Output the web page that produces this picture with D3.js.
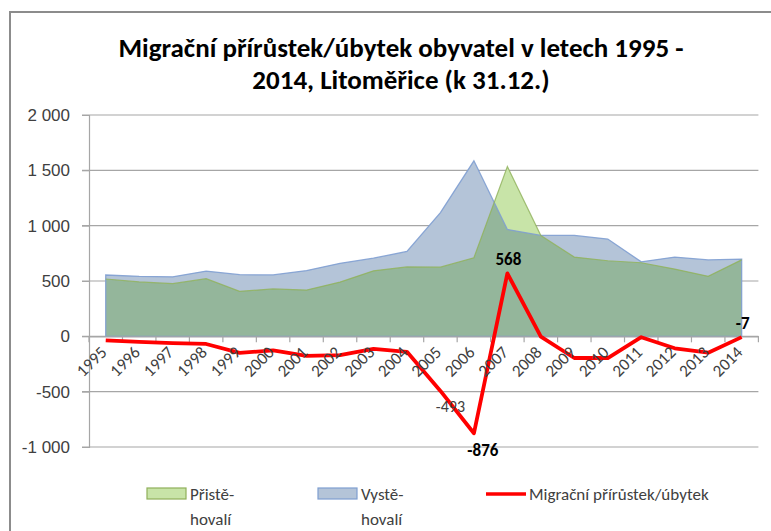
<!DOCTYPE html>
<html>
<head>
<meta charset="utf-8">
<script src="https://cdn.jsdelivr.net/npm/d3@7"></script>
<style>
  body { margin: 0; background: #fff; }
  svg { display: block; font-family: Carlito, Calibri, "Liberation Sans Narrow", "Open Sans", sans-serif; }
</style>
</head>
<body>
<svg id="chart" width="771" height="531"></svg>
<script>
// data
const years = ["1995","1996","1997","1998","1999","2000","2001","2002","2003","2004",
  "2005","2006","2007","2008","2009","2010","2011","2012","2013","2014"];
const immigrants = [518, 492, 476, 521, 407, 428, 418, 490, 592, 627, 625, 710, 1534, 910, 716, 683, 665, 608, 542, 691];
const emigrants  = [554, 542, 538, 590, 557, 555, 594, 660, 706, 767, 1118, 1586, 966, 912, 912, 879, 673, 716, 690, 698];
const netMigration = [-36, -50, -62, -69, -150, -127, -176, -170, -114, -140, -493, -876, 568, -2, -196, -196, -8, -108, -148, -7];
const yTicks = [-1000, -500, 0, 500, 1000, 1500, 2000];
const labelledYears = ["2005", "2006", "2007", "2014"];

const svg = d3.select("#chart");
const margin = { left: 89, right: 771 - 758.4, top: 115, bottom: 531 - 447 };
const width = 771 - margin.left - margin.right;
const height = 531 - margin.top - margin.bottom;

const fmt = d3.formatLocale({ decimal: ",", thousands: " ", grouping: [3], currency: ["", ""], minus: "-" }).format(",d");

// outer frame (cut off at right and bottom like the reference)
svg.append("rect")
  .attr("x", 10).attr("y", 12).attr("width", 780).attr("height", 540)
  .attr("fill", "none").attr("stroke", "#8c8c8c").attr("stroke-width", 2);

// title
const title = svg.append("text")
  .attr("text-anchor", "middle")
  .attr("font-weight", "bold").attr("font-size", 27).attr("fill", "#000");
title.append("tspan").attr("x", 401).attr("y", 57).text("Migrační přírůstek/úbytek obyvatel v letech 1995 -");
title.append("tspan").attr("x", 401).attr("y", 89).text("2014, Litoměřice (k 31.12.)");

const g = svg.append("g").attr("transform", `translate(${margin.left},${margin.top})`);

const x = d3.scaleBand().domain(years).range([0, width]);
const cx = d => x(d) + x.bandwidth() / 2;
const y = d3.scaleLinear().domain([-1000, 2000]).range([height, 0]);

// gridlines
g.append("g")
  .selectAll("line").data(yTicks).join("line")
  .attr("x1", -7).attr("x2", width)
  .attr("y1", d => y(d)).attr("y2", d => y(d))
  .attr("stroke", "#a6a6a6").attr("stroke-width", 1.2);

// y axis
const yAxis = g.append("g")
  .call(d3.axisLeft(y).tickValues(yTicks).tickFormat(fmt).tickSize(7).tickPadding(12));
yAxis.select(".domain").attr("stroke", "#a6a6a6").attr("stroke-width", 1.2);
yAxis.selectAll(".tick line").attr("stroke", "#a6a6a6");
yAxis.selectAll("text").attr("font-size", 17).attr("fill", "#404040")
  .style("font-family", "inherit");

// areas
const areaIn = d3.area().x((d, i) => cx(years[i])).y0(y(0)).y1(d => y(d));
const lineIn = d3.line().x((d, i) => cx(years[i])).y(d => y(d));

const defs = svg.append("defs");
defs.append("clipPath").attr("id", "clipOut")
  .append("path").attr("d", areaIn(emigrants));

g.append("path").attr("d", areaIn(emigrants)).attr("fill", "#b4c4d8");
g.append("path").attr("d", areaIn(immigrants)).attr("fill", "#c8e4a8");
g.append("path").attr("d", areaIn(immigrants)).attr("fill", "#94b69b").attr("clip-path", "url(#clipOut)");

// area outlines
g.append("path").attr("d", areaIn(emigrants)).attr("fill", "none")
  .attr("stroke", "#7f9fd1").attr("stroke-width", 1.3).attr("stroke-opacity", 0.9);
g.append("path").attr("d", lineIn(immigrants)).attr("fill", "none")
  .attr("stroke", "#8fb05a").attr("stroke-width", 1.2).attr("stroke-opacity", 0.8);

// x axis at zero
const xAxis = g.append("g").attr("transform", `translate(0,${y(0)})`)
  .call(d3.axisBottom(x).tickSize(0).tickFormat(""));
xAxis.select(".domain").attr("stroke", "#a6a6a6").attr("stroke-width", 1.2);
g.append("g").selectAll("line").data(d3.range(years.length + 1)).join("line")
  .attr("x1", i => i * x.bandwidth()).attr("x2", i => i * x.bandwidth())
  .attr("y1", y(0)).attr("y2", y(0) + 6)
  .attr("stroke", "#a6a6a6").attr("stroke-width", 1.2);

// net migration line
g.append("path")
  .attr("d", d3.line().x((d, i) => cx(years[i])).y(d => y(d))(netMigration))
  .attr("fill", "none").attr("stroke", "#ff0000").attr("stroke-width", 3.8)
  .attr("stroke-linejoin", "round");

// year labels, rotated
g.append("g").selectAll("text").data(years).join("text")
  .attr("transform", d => `translate(${cx(d) + 2},${y(0) + 17}) rotate(-45)`)
  .attr("text-anchor", "end").attr("font-size", 17).attr("fill", "#404040")
  .text(d => d);

// data labels
const lbl = g.append("g");
labelledYears.forEach(yr => {
  const i = years.indexOf(yr);
  const v = netMigration[i];
  const px = cx(yr), py = y(v);
  if (yr === "2005") {
    lbl.append("text").attr("x", px + 10).attr("y", py + 21)
      .attr("text-anchor", "middle").attr("font-size", 16).attr("fill", "#404040").text(fmt(v));
  } else if (yr === "2006") {
    lbl.append("text").attr("x", px + 9).attr("y", py + 23)
      .attr("text-anchor", "middle").attr("font-size", 17).attr("font-weight", "bold")
      .attr("fill", "#000").text(fmt(v));
  } else {
    lbl.append("text").attr("x", px + 1).attr("y", py - 8)
      .attr("text-anchor", "middle").attr("font-size", 17).attr("font-weight", "bold")
      .attr("fill", "#000").text(fmt(v));
  }
});

// legend
const legend = svg.append("g").attr("font-size", 17).attr("fill", "#404040");
const items = [
  { x: 147, lines: ["Přistě-", "hovalí"], type: "area", fill: "#c8e4a8", stroke: "#8fb05a" },
  { x: 318, lines: ["Vystě-", "hovalí"], type: "area", fill: "#b4c4d8", stroke: "#7f9fd1" },
  { x: 486, lines: ["Migrační přírůstek/úbytek"], type: "line", stroke: "#ff0000" }
];
items.forEach(it => {
  if (it.type === "area") {
    legend.append("rect").attr("x", it.x).attr("y", 488).attr("width", 39).attr("height", 11)
      .attr("fill", it.fill).attr("stroke", it.stroke).attr("stroke-width", 1.2);
  } else {
    legend.append("line").attr("x1", it.x).attr("x2", it.x + 40).attr("y1", 494).attr("y2", 494)
      .attr("stroke", it.stroke).attr("stroke-width", 3.5);
  }
  it.lines.forEach((t, k) => {
    legend.append("text").attr("x", it.x + 43).attr("y", 500 + k * 25).text(t);
  });
});
</script>
</body>
</html>
